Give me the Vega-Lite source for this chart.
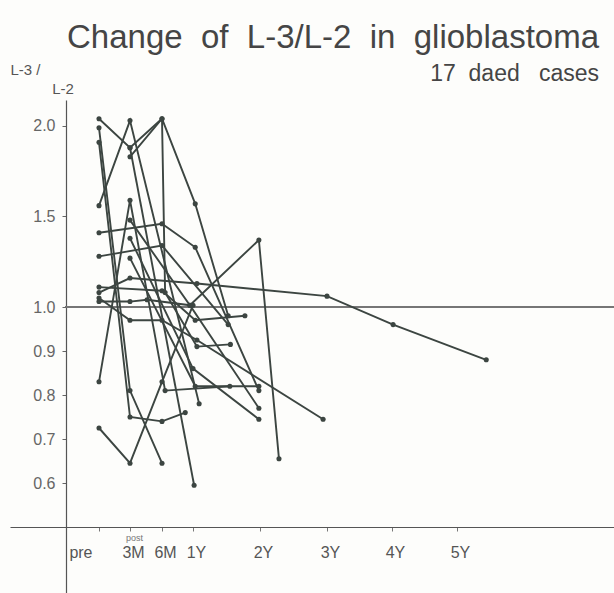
{
  "$schema": "https://vega.github.io/schema/vega-lite/v6.json",
  "width": 604,
  "height": 493,
  "autosize": {"type": "none"},
  "padding": {"left": 10, "top": 100, "right": 0, "bottom": 0},
  "background": "#fdfdfb",
  "config": {"view": {"stroke": null}, "font": "Liberation Sans"},
  "title": {
    "text": "Change\u00a0 of\u00a0 L-3/L-2\u00a0 in\u00a0 glioblastoma",
    "subtitle": "17\u00a0 daed\u00a0\u00a0 cases",
    "anchor": "end",
    "frame": "group",
    "fontSize": 33,
    "fontWeight": "normal",
    "color": "#454545",
    "subtitleFontSize": 23,
    "subtitleColor": "#454545",
    "subtitlePadding": 8,
    "offset": 14,
    "dx": -15,
    "dy": 38
  },
  "data": {
    "values": [
      {"case": 1, "month": 0, "v": 2.04}, {"case": 1, "month": 3, "v": 1.88}, {"case": 1, "month": 6, "v": 2.04}, {"case": 1, "month": 12.4, "v": 1.57}, {"case": 1, "month": 18.3, "v": 0.98},
      {"case": 2, "month": 0, "v": 1.99}, {"case": 2, "month": 3, "v": 0.81}, {"case": 2, "month": 6, "v": 0.645},
      {"case": 3, "month": 0, "v": 1.91}, {"case": 3, "month": 3, "v": 0.75}, {"case": 3, "month": 6, "v": 0.74}, {"case": 3, "month": 10.5, "v": 0.76},
      {"case": 4, "month": 0, "v": 1.56}, {"case": 4, "month": 3, "v": 2.03}, {"case": 4, "month": 13.1, "v": 0.78},
      {"case": 5, "month": 0, "v": 0.725}, {"case": 5, "month": 3, "v": 0.645}, {"case": 5, "month": 6, "v": 0.83}, {"case": 5, "month": 12, "v": 1.01},
      {"case": 6, "month": 0, "v": 0.83}, {"case": 6, "month": 3, "v": 1.59}, {"case": 6, "month": 6.6, "v": 0.81}, {"case": 6, "month": 18.6, "v": 0.82},
      {"case": 7, "month": 0, "v": 1.41}, {"case": 7, "month": 6, "v": 1.46}, {"case": 7, "month": 12.4, "v": 1.33}, {"case": 7, "month": 23.8, "v": 0.81},
      {"case": 8, "month": 0, "v": 1.28}, {"case": 8, "month": 6, "v": 1.34}, {"case": 8, "month": 18.3, "v": 0.96},
      {"case": 9, "month": 0, "v": 1.11}, {"case": 9, "month": 6, "v": 1.09}, {"case": 9, "month": 12.4, "v": 0.97}, {"case": 9, "month": 21.3, "v": 0.98},
      {"case": 10, "month": 0, "v": 1.03}, {"case": 10, "month": 3, "v": 1.03}, {"case": 10, "month": 4.6, "v": 1.04}, {"case": 10, "month": 11.4, "v": 1.01}, {"case": 10, "month": 23.8, "v": 0.77},
      {"case": 11, "month": 0, "v": 1.05}, {"case": 11, "month": 3, "v": 0.97}, {"case": 11, "month": 6, "v": 0.97}, {"case": 11, "month": 12.7, "v": 0.925}, {"case": 11, "month": 35.3, "v": 0.745},
      {"case": 12, "month": 0, "v": 1.08}, {"case": 12, "month": 3, "v": 1.16}, {"case": 12, "month": 12.7, "v": 1.13}, {"case": 12, "month": 36, "v": 1.06}, {"case": 12, "month": 48.2, "v": 0.96}, {"case": 12, "month": 65.4, "v": 0.88},
      {"case": 13, "month": 3, "v": 1.83}, {"case": 13, "month": 6, "v": 2.04}, {"case": 13, "month": 6.6, "v": 1.08}, {"case": 13, "month": 12.7, "v": 0.91}, {"case": 13, "month": 18.7, "v": 0.915},
      {"case": 14, "month": 3, "v": 1.48}, {"case": 14, "month": 11.4, "v": 1.01}, {"case": 14, "month": 23.8, "v": 1.37}, {"case": 14, "month": 27.4, "v": 0.655},
      {"case": 15, "month": 3, "v": 1.38}, {"case": 15, "month": 12, "v": 0.86}, {"case": 15, "month": 23.8, "v": 0.745},
      {"case": 16, "month": 3, "v": 1.27}, {"case": 16, "month": 12.4, "v": 0.82}, {"case": 16, "month": 23.8, "v": 0.82},
      {"case": 17, "month": 3, "v": 1.88}, {"case": 17, "month": 12.2, "v": 0.595}
    ]
  },
  "encoding": {
    "x": {
      "field": "month",
      "type": "quantitative",
      "scale": {"domain": [-8.61, 0, 3, 6, 12, 24, 36, 48, 60, 89], "range": [0, 89, 120, 152, 183, 250, 317, 382, 447, 604], "nice": false, "zero": false},
      "axis": {
        "values": [0, 3, 6, 12, 24, 36, 48, 60],
        "labelExpr": "datum.value==0?'pre':datum.value==3?'3M':datum.value==6?'6M':datum.value==12?'1Y':datum.value==24?'2Y':datum.value==36?'3Y':datum.value==48?'4Y':'5Y'",
        "offset": -66,
        "grid": false,
        "domainColor": "#555",
        "domainWidth": 1.2,
        "tickColor": "#777",
        "tickSize": 4,
        "labelFontSize": 16,
        "labelColor": "#555",
        "labelPadding": 13,
        "labelFlush": false,
        "labelOverlap": false,
        "labelAlign": {"condition": {"test": "datum.value==0", "value": "right"}, "value": "center"},
        "labelOffset": {"condition": {"test": "datum.value==0", "value": -7}, "value": 3},
        "title": "post",
        "titleFontSize": 9,
        "titleFontWeight": "normal",
        "titleColor": "#777",
        "titleAlign": "center",
        "titleBaseline": "middle",
        "titleX": 124,
        "titleY": 10
      }
    },
    "y": {
      "field": "v",
      "type": "quantitative",
      "scale": {"domain": [0.35, 1.0, 2.1436], "range": [493, 207, 0], "nice": false, "zero": false},
      "axis": {
        "values": [0.6, 0.7, 0.8, 0.9, 1.0, 1.5, 2.0],
        "format": ".1f",
        "offset": -56,
        "grid": false,
        "domainColor": "#555",
        "domainWidth": 1.2,
        "tickColor": "#666",
        "tickSize": 4,
        "labelFontSize": 16,
        "labelColor": "#666",
        "labelPadding": 7,
        "title": ["L-3 /", "\u200b\u00a0\u00a0\u00a0\u00a0\u00a0\u00a0\u00a0\u00a0\u00a0\u00a0L-2"],
        "titleAngle": 0,
        "titleAlign": "left",
        "titleBaseline": "top",
        "titleX": -56,
        "titleY": -38,
        "titleFontSize": 15,
        "titleFontWeight": "normal",
        "titleColor": "#555",
        "titleLineHeight": 19
      }
    }
  },
  "layer": [
    {
      "mark": {"type": "rule", "color": "#777", "strokeWidth": 1},
      "encoding": {"y": {"datum": 1}, "x": {"datum": -3.2}, "x2": {"datum": 89}}
    },
    {
      "mark": {"type": "line", "color": "#3c4541", "strokeWidth": 1.9},
      "encoding": {"detail": {"field": "case"}, "order": {"field": "month"}}
    },
    {
      "mark": {"type": "point", "filled": true, "color": "#3c4541", "size": 26, "opacity": 1},
      "encoding": {}
    }
  ]
}
